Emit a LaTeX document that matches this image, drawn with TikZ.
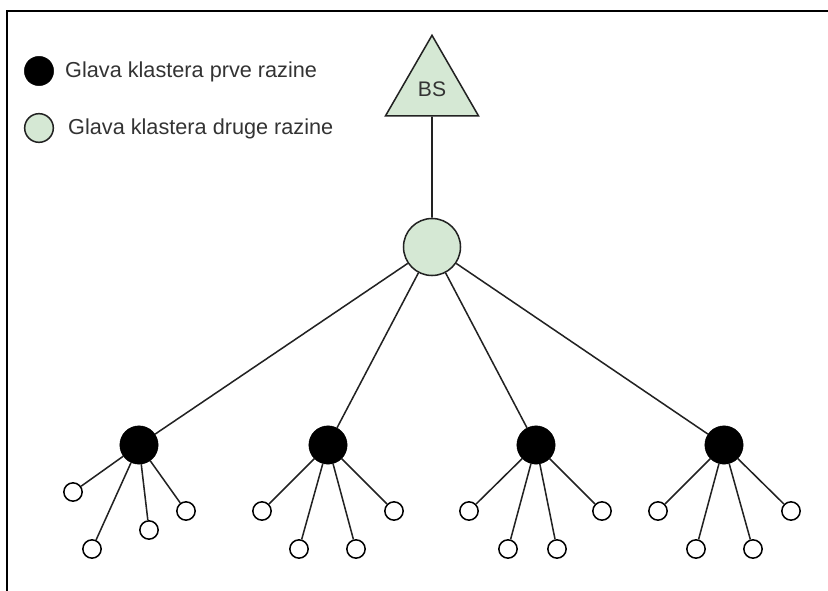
\documentclass[tikz,border=0pt]{standalone}
\usepackage{fontspec}
\setmainfont{Liberation Sans}
\usepackage{xcolor}
\definecolor{hubgreen}{RGB}{213,232,212}
\definecolor{linegray}{RGB}{34,34,34}
\definecolor{textgray}{RGB}{51,51,51}
\usetikzlibrary{shapes.geometric}

\begin{document}
\begin{tikzpicture}[x=0.03cm,y=-0.03cm,
  link/.style={draw=linegray,line width=1.3pt},
  hub/.style={circle,draw=linegray,line width=1.3pt,fill=hubgreen,minimum size=1.71cm,inner sep=0pt},
  head/.style={circle,draw=black,fill=black,minimum size=1.15cm,inner sep=0pt},
  leaf/.style={circle,draw=black,line width=1.3pt,fill=white,minimum size=0.55cm,inner sep=0pt},
  legtext/.style={anchor=west,text=textgray,font=\fontsize{18.5}{22}\selectfont,inner sep=0pt}]
  \useasboundingbox (0,0) rectangle (828,591);
  % Frame
  \draw[line width=1.5pt] (7,591) -- (7,11) -- (828,11);
  % Legend
  \node[head,minimum size=0.88cm] (leg1) at (39,71) {};
  \node[legtext] (legt1) at (65,72) {Glava klastera prve razine};
  \node[hub,minimum size=0.86cm] (leg2) at (39,128) {};
  \node[legtext] (legt2) at (68,129) {Glava klastera druge razine};
  % Base station and second level head
  \node[regular polygon,regular polygon sides=3,draw=linegray,line width=1.3pt,fill=hubgreen,
    minimum size=3.22cm,inner sep=0pt,text=textgray,font=\fontsize{18}{20}\selectfont] (bs) at (432,89) {BS};
  \node[hub] (hub) at (432,247) {};
  \draw[link] (bs) -- (hub);
  % First level heads
  \foreach \i/\x in {1/139,2/328,3/536,4/724}{
    \node[head] (h\i) at (\x,445) {};
    \draw[link] (hub) -- (h\i);
  }
  % Cluster members
  \foreach \c/\dx/\dy/\k in {1/-66/47/1,1/-47/104/2,1/10/85/3,1/47/66/4,
    2/-66/66/1,2/-29/104/2,2/28/104/3,2/66/66/4,
    3/-67/66/1,3/-28/104/2,3/21/104/3,3/66/66/4,
    4/-66/66/1,4/-28/104/2,4/29/104/3,4/67/66/4}{
    \node[leaf] (l\c\k) at ([shift={(\dx,\dy)}]h\c) {};
    \draw[link] (h\c) -- (l\c\k);
  }
\end{tikzpicture}
\end{document}
